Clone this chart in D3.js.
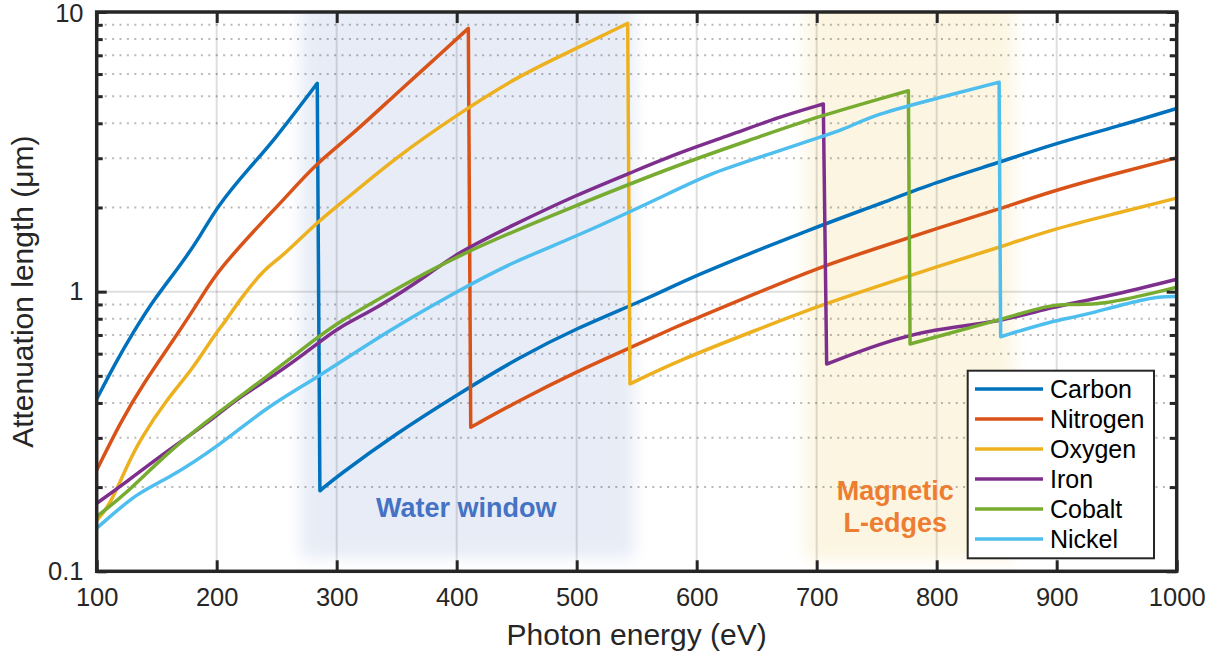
<!DOCTYPE html>
<html>
<head>
<meta charset="utf-8">
<script src="https://cdn.jsdelivr.net/npm/d3@7"></script>
<style>
  html, body { margin: 0; padding: 0; background: #fff; }
  svg { display: block; }
  text { font-family: "Liberation Sans", Arial, Helvetica, sans-serif; }
</style>
</head>
<body>
<svg id="chart" width="1222" height="657"></svg>
<script>
// ---------------- data ----------------
const seriesNames = ["Carbon", "Nitrogen", "Oxygen", "Iron", "Cobalt", "Nickel"];
const seriesColors = ["#0072BD", "#D95319", "#EDB120", "#7E2F8E", "#77AC30", "#4DBEEE"];

// [photon energy (eV), attenuation length (µm)]
const carbon = [[100,0.413],[115,0.55],[130,0.71],[147,0.93],[169,1.23],[186,1.57],[200,2.01],[228,2.80],[247,3.44],[283.8,5.56],[286,0.194],[300,0.218],[350,0.312],[400,0.427],[453,0.586],[500,0.740],[553,0.921],[586,1.072],[600,1.147],[700,1.708],[750,2.04],[800,2.47],[850,2.88],[899,3.39],[950,3.89],[1000,4.52]];
const nitrogen = [[100,0.23],[120,0.343],[139,0.47],[164,0.672],[186,0.934],[200,1.18],[242,1.854],[253,2.07],[283,2.88],[311,3.58],[350,5.12],[378,6.56],[409.7,8.74],[411.7,0.3275],[453,0.41],[500,0.518],[544,0.628],[586,0.76],[600,0.803],[650,0.988],[700,1.213],[750,1.43],[800,1.685],[850,1.96],[899,2.31],[950,2.65],[1000,3.01]];
const oxygen = [[100,0.152],[111,0.172],[125,0.237],[136,0.295],[158,0.41],[180.5,0.532],[197,0.69],[208,0.79],[219,0.934],[240,1.21],[253,1.316],[283,1.76],[300,2.01],[350,3.04],[400,4.28],[450,5.87],[500,7.42],[542.5,9.11],[544.4,0.468],[586,0.57],[650,0.73],[700,0.884],[750,1.042],[800,1.228],[850,1.43],[899,1.685],[950,1.906],[1000,2.16]];
const iron = [[100,0.175],[125,0.209],[158,0.268],[192,0.338],[219,0.421],[247,0.497],[283,0.645],[300,0.74],[336,0.884],[378,1.163],[400,1.372],[447,1.732],[500,2.22],[544,2.65],[586,3.15],[628,3.63],[669,4.22],[705.5,4.69],[708.3,0.551],[753,0.654],[797,0.736],[850,0.775],[897,0.884],[936,0.947],[1000,1.107]];
const cobalt = [[100,0.157],[125,0.19],[158,0.264],[200,0.367],[242,0.497],[283,0.681],[300,0.77],[336,0.947],[400,1.353],[500,2.04],[586,2.86],[650,3.55],[700,4.22],[776.4,5.23],[777.8,0.65],[800,0.69],[850,0.788],[894,0.896],[908,0.904],[936,0.889],[1000,1.037]];
const nickel = [[100,0.1426],[135,0.193],[158,0.212],[203,0.283],[242,0.388],[283,0.49],[344,0.73],[400,1.0],[447,1.28],[500,1.573],[586,2.34],[608,2.61],[650,3.0],[700,3.54],[722,3.79],[749,4.31],[800,4.91],[852,5.61],[853.3,0.69],[899,0.792],[919,0.814],[978,0.96],[1000,0.96]];
const seriesData = [carbon, nitrogen, oxygen, iron, cobalt, nickel];

const xTicks = [100, 200, 300, 400, 500, 600, 700, 800, 900, 1000];
const xTickLabels = ["100","200","300","400","500","600","700","800","900","1000"];
const yTicks = [0.1, 1, 10];
const yTickLabels = ["0.1", "1", "10"];
const yMinorTicks = [0.2,0.3,0.4,0.5,0.6,0.7,0.8,0.9,2,3,4,5,6,7,8,9];

const waterWindow = [270, 548];     // eV
const magneticEdges = [691, 864];   // eV

// ---------------- layout ----------------
const L = 96.7, R = 1176.7, T = 12, B = 571.3;
const ink = "#262626";
const svg = d3.select("#chart");

const x = d3.scaleLinear().domain([100, 1000]).range([L, R]);
const y = d3.scaleLog().domain([0.1, 10]).range([B, T]);

const defs = svg.append("defs");
defs.append("clipPath").attr("id", "plotClip")
  .append("rect").attr("x", L).attr("y", T).attr("width", R - L).attr("height", B - T);
const blur = defs.append("filter").attr("id", "soft")
  .attr("filterUnits", "userSpaceOnUse")
  .attr("x", 0).attr("y", -200).attr("width", 1222).attr("height", 1000);
blur.append("feGaussianBlur").attr("stdDeviation", 8);

const plot = svg.append("g").attr("clip-path", "url(#plotClip)");

// shaded regions
const shadeG = plot.append("g").attr("filter", "url(#soft)");
shadeG.append("rect")
  .attr("x", x(waterWindow[0])).attr("width", x(waterWindow[1]) - x(waterWindow[0]))
  .attr("y", T - 60).attr("height", 558 - (T - 60))
  .attr("fill", "#e7ecf6");
shadeG.append("rect")
  .attr("x", x(magneticEdges[0])).attr("width", x(magneticEdges[1]) - x(magneticEdges[0]))
  .attr("y", T - 60).attr("height", 560 - (T - 60))
  .attr("fill", "#fcf5e1");

// minor dotted grid
plot.append("g").selectAll("line").data(yMinorTicks).join("line")
  .attr("x1", L + 8).attr("x2", R)
  .attr("y1", d => y(d)).attr("y2", d => y(d))
  .attr("stroke", "rgba(38,38,38,0.32)").attr("stroke-width", 2)
  .attr("stroke-dasharray", "2 5.4");

// major grid
plot.append("g").selectAll("line").data(xTicks.slice(1, -1)).join("line")
  .attr("x1", d => x(d)).attr("x2", d => x(d))
  .attr("y1", T).attr("y2", B)
  .attr("stroke", "rgba(38,38,38,0.15)").attr("stroke-width", 2);
plot.append("line")
  .attr("x1", L).attr("x2", R).attr("y1", y(1)).attr("y2", y(1))
  .attr("stroke", "rgba(38,38,38,0.15)").attr("stroke-width", 2);

// curves: smoothed before and after the absorption edge, straight drop at the edge
const smooth = d3.line().x(d => x(d[0])).y(d => y(d[1])).curve(d3.curveBasis);
function edgePath(pts) {
  let k = -1;
  for (let i = 0; i < pts.length - 1; i++) if (pts[i + 1][1] < pts[i][1] * 0.5) { k = i; break; }
  if (k < 0) return smooth(pts);
  const pre = smooth(pts.slice(0, k + 1));
  const post = smooth(pts.slice(k + 1)).replace(/^M/, "L");
  return pre + post;
}
plot.append("g").selectAll("path").data(seriesData).join("path")
  .attr("d", edgePath)
  .attr("fill", "none")
  .attr("stroke", (d, i) => seriesColors[i])
  .attr("stroke-width", 3.5)
  .attr("stroke-linejoin", "round");

// annotations
svg.append("text").attr("x", x(408)).attr("y", 516.7)
  .attr("text-anchor", "middle").attr("font-size", 27).attr("font-weight", "bold")
  .attr("fill", "#4472C4").text("Water window");
const mag = svg.append("text").attr("text-anchor", "middle").attr("font-size", 27)
  .attr("font-weight", "bold").attr("fill", "#ED7D31");
mag.append("tspan").attr("x", x(765.5)).attr("y", 499.5).text("Magnetic");
mag.append("tspan").attr("x", x(765.5)).attr("y", 531.7).text("L-edges");

// axes
function styleAxis(g) {
  g.select(".domain").remove();
  g.selectAll(".tick line").attr("stroke", ink).attr("stroke-width", 3);
  g.selectAll(".tick text").attr("fill", ink).attr("font-size", 25.5)
    .attr("font-family", "Liberation Sans, Arial, Helvetica, sans-serif");
}
svg.append("g").attr("transform", `translate(0,${B})`)
  .call(d3.axisBottom(x).tickValues(xTicks).tickFormat((d, i) => xTickLabels[i])
    .tickSize(-11).tickSizeOuter(0).tickPadding(16.6))
  .call(styleAxis);
svg.append("g").attr("transform", `translate(0,${T})`)
  .call(d3.axisTop(x).tickValues(xTicks).tickFormat("").tickSize(-11).tickSizeOuter(0))
  .call(styleAxis);
const yAxisG = svg.append("g").attr("transform", `translate(${L},0)`)
  .call(d3.axisLeft(y).tickValues(yTicks).tickFormat((d, i) => yTickLabels[i])
    .tickSize(-10).tickSizeOuter(0).tickPadding(13.2))
  .call(styleAxis);
yAxisG.selectAll(".tick text").filter(d => d === 10).attr("dy", "0.38em");
svg.append("g").attr("transform", `translate(${L},0)`)
  .call(d3.axisLeft(y).tickValues(yMinorTicks).tickFormat("").tickSize(-6).tickSizeOuter(0))
  .call(styleAxis);
svg.append("g").attr("transform", `translate(${R},0)`)
  .call(d3.axisRight(y).tickValues(yTicks).tickFormat("").tickSize(-10).tickSizeOuter(0))
  .call(styleAxis);
svg.append("g").attr("transform", `translate(${R},0)`)
  .call(d3.axisRight(y).tickValues(yMinorTicks).tickFormat("").tickSize(-7).tickSizeOuter(0))
  .call(styleAxis);

// box
svg.append("rect").attr("x", L).attr("y", T).attr("width", R - L).attr("height", B - T)
  .attr("fill", "none").attr("stroke", ink).attr("stroke-width", 3.5);

// axis labels
svg.append("text").attr("x", 636.7).attr("y", 645).attr("text-anchor", "middle")
  .attr("font-size", 30).attr("fill", ink).text("Photon energy (eV)");
svg.append("text").attr("transform", `translate(33,${(T + B) / 2}) rotate(-90)`)
  .attr("text-anchor", "middle").attr("font-size", 30).attr("fill", ink)
  .text("Attenuation length (μm)");

// legend
const lg = svg.append("g");
lg.append("rect").attr("x", 967.7).attr("y", 370.7).attr("width", 186.3).attr("height", 187.6)
  .attr("fill", "#fff").attr("stroke", ink).attr("stroke-width", 2);
const items = lg.selectAll("g.item").data(seriesNames).join("g").attr("class", "item")
  .attr("transform", (d, i) => `translate(0,${389 + 30 * i})`);
items.append("line").attr("x1", 975).attr("x2", 1043).attr("y1", 0).attr("y2", 0)
  .attr("stroke", (d, i) => seriesColors[i]).attr("stroke-width", 3.5);
items.append("text").attr("x", 1050).attr("y", 0).attr("dy", "0.36em")
  .attr("font-size", 25).attr("fill", "#000").text(d => d);
</script>
</body>
</html>
